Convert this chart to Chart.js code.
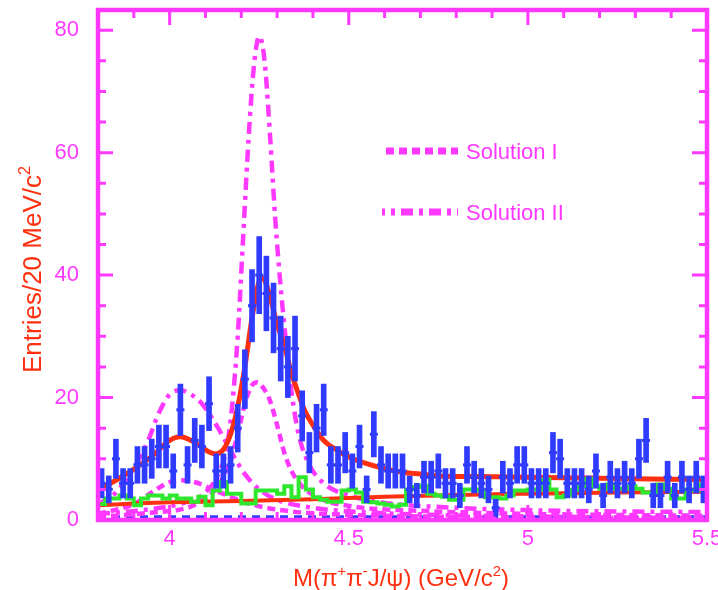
<!DOCTYPE html>
<html>
<head>
<meta charset="utf-8">
<script src="https://cdn.jsdelivr.net/npm/chart.js@4/dist/chart.umd.min.js"></script>
<style>
  html, body { margin: 0; padding: 0; background: #fff; }
  #wrap { width: 718px; height: 590px; }
</style>
</head>
<body>
<div id="wrap"><canvas id="massChart" width="718" height="590"></canvas></div>
<script>
// bin centres (20 MeV bins, 3.80 - 5.50 GeV)
const binCenters = [
  3.81, 3.83, 3.85, 3.87, 3.89, 3.91, 3.93, 3.95, 3.97, 3.99,
  4.01, 4.03, 4.05, 4.07, 4.09, 4.11, 4.13, 4.15, 4.17, 4.19,
  4.21, 4.23, 4.25, 4.27, 4.29, 4.31, 4.33, 4.35, 4.37, 4.39,
  4.41, 4.43, 4.45, 4.47, 4.49, 4.51, 4.53, 4.55, 4.57, 4.59,
  4.61, 4.63, 4.65, 4.67, 4.69, 4.71, 4.73, 4.75, 4.77, 4.79,
  4.81, 4.83, 4.85, 4.87, 4.89, 4.91, 4.93, 4.95, 4.97, 4.99,
  5.01, 5.03, 5.05, 5.07, 5.09, 5.11, 5.13, 5.15, 5.17, 5.19,
  5.21, 5.23, 5.25, 5.27, 5.29, 5.31, 5.33, 5.35, 5.37, 5.39,
  5.41, 5.43, 5.45, 5.47, 5.49
];

// entries per bin
const entries = [
  6, 5, 10, 6, 6, 9, 9, 10, 12, 12,
  8, 18, 9, 13, 12, 19, 8, 8, 9, 15,
  23, 35, 40, 37, 33, 28, 25, 28, 17, 11,
  15, 18, 9, 9, 11, 8, 12, 5, 14, 9,
  8, 8, 8, 5, 4, 7, 7, 8, 6, 6,
  4, 9, 7, 6, 5, 2, 7, 6, 9, 9,
  6, 6, 6, 11, 10, 6, 6, 6, 5, 8,
  4, 7, 6, 7, 6, 10, 13, 4, 4, 7,
  4, 7, 5, 7, 5
];

// statistical errors per bin
const entryErrors = [
  2.4, 2.2, 3.2, 2.4, 2.4, 3.0, 3.0, 3.2, 3.5, 3.5,
  2.8, 4.2, 3.0, 3.6, 3.5, 4.4, 2.8, 2.8, 3.0, 3.9,
  4.8, 5.9, 6.3, 6.1, 5.7, 5.3, 5.0, 5.3, 4.1, 3.3,
  3.9, 4.2, 3.0, 3.0, 3.3, 2.8, 3.5, 2.2, 3.7, 3.0,
  2.8, 2.8, 2.8, 2.2, 2.0, 2.6, 2.6, 2.8, 2.4, 2.4,
  2.0, 3.0, 2.6, 2.4, 2.2, 1.4, 2.6, 2.4, 3.0, 3.0,
  2.4, 2.4, 2.4, 3.3, 3.2, 2.4, 2.4, 2.4, 2.2, 2.8,
  2.0, 2.6, 2.4, 2.6, 2.4, 3.2, 3.6, 2.0, 2.0, 2.6,
  2.0, 2.6, 2.2, 2.6, 2.2
];

// J/psi sideband histogram
const sideband = [
  2.6, 3.5, 3.5, 4.0, 3.5, 2.4, 3.5, 4.0, 4.0, 3.5,
  4.0, 3.5, 3.5, 3.0, 3.8, 2.4, 4.8, 6.2, 4.3, 4.3,
  2.7, 2.7, 4.8, 4.8, 4.8, 4.3, 5.5, 3.7, 7.0, 5.0,
  3.7, 3.3, 3.0, 3.0, 4.8, 5.0, 4.5, 3.0, 2.9, 2.7,
  2.5, 2.2, 2.5, 5.0, 5.4, 5.6, 4.3, 4.0, 3.8, 3.3,
  3.3, 5.0, 5.0, 4.8, 3.7, 3.7, 3.5, 4.0, 4.8, 4.8,
  5.0, 5.0, 6.6, 5.0, 3.7, 4.0, 4.9, 5.5, 6.7, 5.5,
  5.1, 5.8, 5.1, 5.1, 5.5, 5.1, 4.5, 4.5, 5.8, 5.1,
  3.5, 3.5, 5.0, 4.8, 5.8
];

// total fit
const fitMass = [3.80, 3.85, 3.90, 3.95, 4.00, 4.03, 4.06, 4.09, 4.11, 4.13, 4.15, 4.17, 4.19, 4.21, 4.23, 4.25, 4.26, 4.28,
  4.30, 4.32, 4.34, 4.36, 4.38, 4.40, 4.43, 4.47, 4.50, 4.55, 4.60, 4.65, 4.70, 4.75, 4.85, 5.00, 5.20, 5.50];
const fitValues = [5.0, 6.5, 8.3, 10.4, 13.0, 13.6, 13.0, 11.9, 11.1, 10.8, 11.5, 14.0, 18.5, 25.0, 33.0, 39.0, 39.5, 36.5,
  32.0, 28.5, 24.0, 20.5, 17.5, 15.5, 13.0, 11.3, 10.3, 9.2, 8.4, 7.8, 7.5, 7.2, 7.1, 7.0, 6.8, 6.6];

// background part of the fit
const bkgMass = [3.80, 3.90, 4.00, 4.20, 4.40, 4.60, 4.80, 5.00, 5.25, 5.50];
const bkgValues = [2.4, 2.7, 2.9, 3.1, 3.4, 3.8, 4.1, 4.3, 4.5, 4.6];

// Solution I components
const sol1LowMass = [3.80, 3.90, 3.95, 4.00, 4.03, 4.07, 4.12, 4.17, 4.22, 4.30, 4.40, 4.60, 5.00, 5.50];
const sol1LowValues = [1.0, 2.6, 4.5, 6.2, 6.5, 6.2, 5.0, 3.8, 2.7, 1.7, 1.1, 0.7, 0.4, 0.3];
const sol1HighMass = [3.80, 3.95, 4.05, 4.10, 4.14, 4.17, 4.19, 4.21, 4.23, 4.245, 4.26, 4.28, 4.30, 4.32, 4.34, 4.37,
  4.42, 4.50, 4.70, 5.00, 5.50];
const sol1HighValues = [0.5, 1.2, 2.0, 3.5, 6.0, 10.0, 14.0, 19.0, 22.0, 22.5, 21.7, 19.5, 15.5, 11.0, 8.0, 5.5,
  3.5, 2.3, 1.5, 1.0, 0.7];

// Solution II components
const sol2LowMass = [3.80, 3.85, 3.90, 3.94, 3.97, 4.00, 4.03, 4.06, 4.09, 4.12, 4.15, 4.18, 4.21, 4.25, 4.30, 4.40,
  4.60, 5.00, 5.50];
const sol2LowValues = [2.5, 4.5, 8.5, 13.0, 17.5, 20.5, 21.2, 20.5, 19.0, 16.5, 13.5, 10.3, 7.5, 5.0, 3.3, 2.0,
  1.1, 0.6, 0.3];
const sol2HighMass = [3.80, 3.95, 4.05, 4.10, 4.14, 4.16, 4.175, 4.19, 4.205, 4.22, 4.235, 4.25, 4.265, 4.28, 4.295,
  4.31, 4.325, 4.34, 4.36, 4.39, 4.43, 4.50, 4.60, 4.80, 5.00, 5.25, 5.50];
const sol2HighValues = [1.0, 1.8, 3.0, 4.5, 8.0, 12.0, 19.0, 30.0, 46.0, 62.0, 74.0, 79.0, 75.0, 63.0, 49.0,
  38.0, 29.0, 21.0, 14.0, 9.0, 6.0, 4.0, 2.8, 2.0, 1.6, 1.4, 1.3];

// baseline drawn along the bottom
const baseMass = [3.80, 5.50];
const baseValues = [0.55, 0.55];

const xTickValues = [4, 4.5, 5, 5.5];
const yTickValues = [0, 20, 40, 60, 80];

const MAGENTA = '#ff38ff';
const RED = '#ff3010';
const BLUE = '#2f3cff';
const GREEN = '#2ee82e';
const FONT = '"Liberation Sans", Arial, Helvetica, sans-serif';
const DASH_I = [8, 5];
const DASH_II = [12, 6, 4, 6];

const pts = (xs, ys) => xs.map((x, i) => ({ x: x, y: ys[i] }));

// sideband as step histogram on bin edges
const sidebandSteps = binCenters.map((c, i) => ({ x: c - 0.01, y: sideband[i] }));
sidebandSteps.push({ x: 5.5, y: sideband[sideband.length - 1] });
sidebandSteps.push({ x: 5.5, y: 0 });

function curve(data, color, width, dash, order) {
  return {
    type: 'line',
    data: data,
    borderColor: color,
    borderWidth: width,
    borderDash: dash || [],
    pointRadius: 0,
    fill: false,
    cubicInterpolationMode: 'monotone',
    order: order
  };
}

// text with raised parts, e.g. c^2
function richWidth(ctx, parts, size) {
  let w = 0;
  parts.forEach(([t, sup]) => {
    ctx.font = (sup ? size * 0.62 : size) + 'px ' + FONT;
    w += ctx.measureText(t).width;
  });
  return w;
}

function drawRich(ctx, parts, x, y, size) {
  let cx = x;
  parts.forEach(([t, sup]) => {
    ctx.font = (sup ? size * 0.62 : size) + 'px ' + FONT;
    ctx.fillText(t, cx, sup ? y - size * 0.42 : y);
    cx += ctx.measureText(t).width;
  });
}

// no extra room for the end labels, the frame is placed by hand
function noEdgePadding(s) {
  s.paddingLeft = 0;
  s.paddingRight = 0;
  s.paddingTop = 0;
  s.paddingBottom = 0;
}

const framePlugin = {
  id: 'frame',
  afterDatasetsDraw(chart) {
    const { ctx, chartArea: a, scales: { x, y } } = chart;
    ctx.save();
    ctx.strokeStyle = MAGENTA;
    ctx.lineWidth = 4.5;
    ctx.strokeRect(a.left, a.top, a.right - a.left, a.bottom - a.top);

    ctx.lineWidth = 3;
    ctx.beginPath();
    for (let v = 0; v <= 80; v += 5) {
      const py = y.getPixelForValue(v);
      const len = yTickValues.includes(v) ? 15 : 8;
      ctx.moveTo(a.left, py); ctx.lineTo(a.left + len, py);
      ctx.moveTo(a.right, py); ctx.lineTo(a.right - len, py);
    }
    for (let k = 39; k <= 55; k++) {
      const v = k / 10;
      const px = x.getPixelForValue(v);
      const len = xTickValues.includes(v) ? 15 : 8;
      ctx.moveTo(px, a.top); ctx.lineTo(px, a.top + len);
      ctx.moveTo(px, a.bottom); ctx.lineTo(px, a.bottom - len);
    }
    ctx.stroke();
    ctx.restore();
  },
  afterDraw(chart) {
    const { ctx } = chart;
    ctx.save();

    // legend
    const rows = [
      { label: 'Solution I', dash: DASH_I, y: 151 },
      { label: 'Solution II', dash: DASH_II, y: 212 }
    ];
    rows.forEach(r => {
      ctx.strokeStyle = MAGENTA;
      ctx.lineWidth = 7;
      ctx.setLineDash(r.dash);
      ctx.lineDashOffset = 9;
      ctx.beginPath();
      ctx.moveTo(382, r.y);
      ctx.lineTo(458, r.y);
      ctx.stroke();
      ctx.setLineDash([]);
      ctx.fillStyle = MAGENTA;
      ctx.font = '22px ' + FONT;
      ctx.textBaseline = 'alphabetic';
      ctx.fillText(r.label, 466, r.y + 8);
    });

    // axis titles
    ctx.fillStyle = RED;
    const xTitle = [['M(\u03c0', false], ['+', true], ['\u03c0', false], ['-', true], ['J/\u03c8) (GeV/c', false], ['2', true], [')', false]];
    const xw = richWidth(ctx, xTitle, 24);
    drawRich(ctx, xTitle, 401 - xw / 2, 586, 24);

    const yTitle = [['Entries/20 MeV/c', false], ['2', true]];
    ctx.translate(41, 373);
    ctx.rotate(-Math.PI / 2);
    drawRich(ctx, yTitle, 0, 0, 26);
    ctx.restore();
  }
};

new Chart(document.getElementById('massChart'), {
  type: 'scatter',
  data: {
    datasets: [
      {
        type: 'scatter',
        data: pts(binCenters, entries),
        pointStyle: 'line',
        pointRadius: 4,
        pointBorderWidth: 3,
        borderColor: BLUE,
        pointBorderColor: BLUE,
        order: 0
      },
      {
        type: 'bar',
        data: binCenters.map((c, i) => ({ x: c, y: [entries[i] - entryErrors[i], entries[i] + entryErrors[i]] })),
        backgroundColor: BLUE,
        barThickness: 5,
        order: 1
      },
      {
        type: 'line',
        data: sidebandSteps,
        borderColor: GREEN,
        borderWidth: 4,
        stepped: 'before',
        pointRadius: 0,
        fill: false,
        order: 2
      },
      curve(pts(fitMass, fitValues), RED, 5, null, 3),
      curve(pts(bkgMass, bkgValues), RED, 4, null, 4),
      curve(pts(sol1LowMass, sol1LowValues), MAGENTA, 4.5, DASH_I, 5),
      curve(pts(sol1HighMass, sol1HighValues), MAGENTA, 4.5, DASH_I, 6),
      curve(pts(sol2LowMass, sol2LowValues), MAGENTA, 4.5, DASH_II, 7),
      curve(pts(sol2HighMass, sol2HighValues), MAGENTA, 4.5, DASH_II, 8),
      curve(pts(baseMass, baseValues), BLUE, 3, [8, 6], 9)
    ]
  },
  options: {
    responsive: false,
    animation: false,
    layout: { padding: { left: 0, right: 11, top: 10, bottom: 0 } },
    plugins: {
      legend: { display: false },
      tooltip: { enabled: false }
    },
    scales: {
      x: {
        type: 'linear',
        min: 3.8,
        max: 5.5,
        offset: false,
        grid: { display: false },
        border: { display: false },
        afterBuildTicks: s => { s.ticks = xTickValues.map(v => ({ value: v })); },
        afterFit: s => { s.height = 70; noEdgePadding(s); },
        ticks: {
          color: MAGENTA,
          font: { family: FONT, size: 22 },
          padding: -2,
          maxRotation: 0,
          autoSkip: false,
          callback: v => String(v)
        }
      },
      y: {
        type: 'linear',
        min: 0,
        max: 83.3,
        grid: { display: false },
        border: { display: false },
        afterBuildTicks: s => { s.ticks = yTickValues.map(v => ({ value: v })); },
        afterFit: s => { s.width = 98; noEdgePadding(s); },
        ticks: {
          color: MAGENTA,
          font: { family: FONT, size: 22 },
          padding: 11,
          callback: v => String(v)
        }
      }
    }
  },
  plugins: [framePlugin]
});
</script>
</body>
</html>
